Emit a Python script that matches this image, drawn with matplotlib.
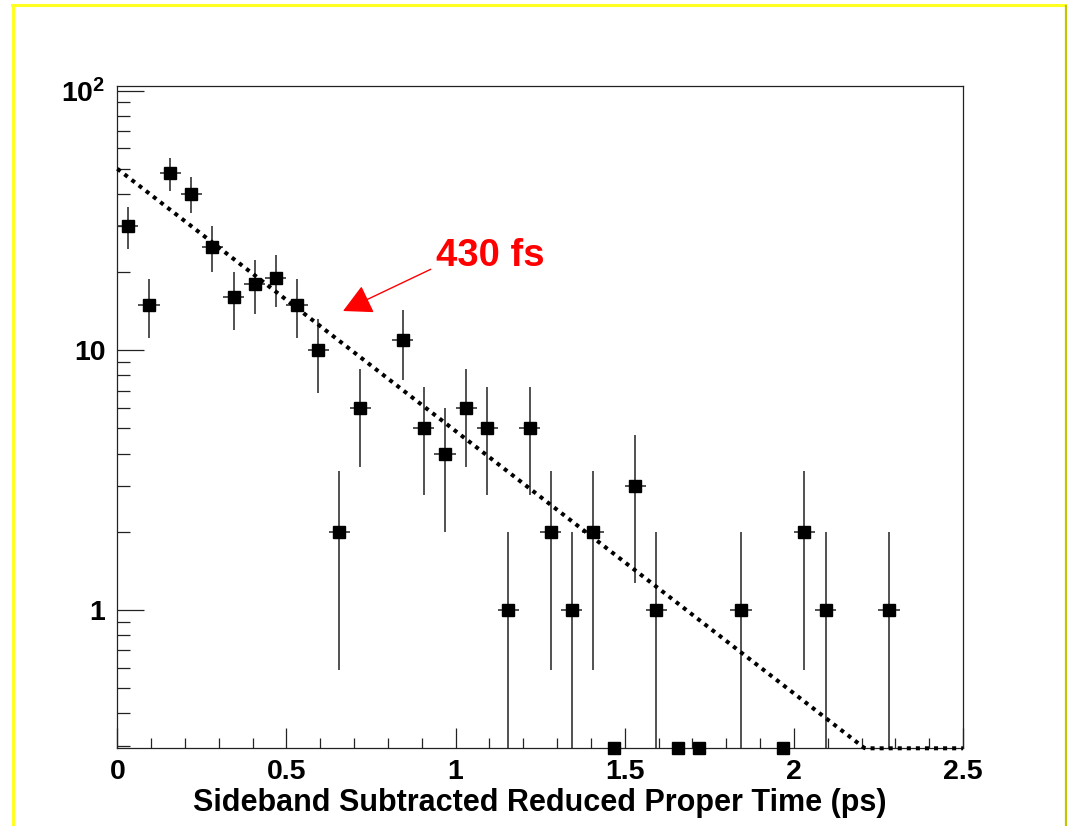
import numpy as np
import matplotlib
matplotlib.use("Agg")
import matplotlib.pyplot as plt
from matplotlib.ticker import FixedLocator, FuncFormatter
from matplotlib.lines import Line2D

plt.rcParams["font.family"] = ["Liberation Sans", "DejaVu Sans"]
plt.rcParams["font.weight"] = "bold"
plt.rcParams["mathtext.fontset"] = "custom"
plt.rcParams["mathtext.rm"] = "Liberation Sans:bold"
plt.rcParams["mathtext.bf"] = "Liberation Sans:bold"
plt.rcParams["mathtext.default"] = "rm"

# ---- data -------------------------------------------------------------
# 40 bins of 62.5 fs between 0 and 2.5 ps; sideband-subtracted counts.
# 0 = empty bin (not drawn), negative = below the plotted floor.
bin_edges = np.linspace(0.0, 2.5, 41)
counts = [30, 15, 48, 40, 25, 16, 18, 19, 15, 10,
          2, 6, 0, 11, 5, 4, 6, 5, 1, 5,
          2, 1, 2, -1, 3, 1, -1, -1, 0, 1,
          0, -1, 2, 1, 0, 0, 1, 0, 0, 0]

# exponential fit: N(t) = A * exp(-t / tau)
fit_amplitude = 50.0
fit_tau_ps = 0.430

x_range = (0.0, 2.5)
y_range = (0.2934, 104.4)
x_title = "Sideband Subtracted Reduced Proper Time (ps)"
y_tick_values = [1, 10, 100]
y_tick_texts = ["1", "10", "$10^{2}$"]
x_tick_values = [0, 0.5, 1, 1.5, 2, 2.5]
x_tick_texts = ["0", "0.5", "1", "1.5", "2", "2.5"]

# ---- figure -----------------------------------------------------------
W, H = 1067, 826
fig = plt.figure(figsize=(W / 100, H / 100), dpi=100)
fig.patch.set_facecolor("white")

ax_l, ax_r, ax_b, ax_t = 117.3, 963.0, 748.3, 85.7
ax = fig.add_axes([ax_l / W, 1 - ax_b / H, (ax_r - ax_l) / W, (ax_b - ax_t) / H])
ax.set_yscale("log")
ax.set_xlim(*x_range)
ax.set_ylim(*y_range)

counts = np.asarray(counts, dtype=float)
centers = 0.5 * (bin_edges[:-1] + bin_edges[1:])
half_w = 0.5 * np.diff(bin_edges)
ylo_axis = y_range[0]

err_col = "#333333"
pos = counts > 0
yc = counts[pos]
xc = centers[pos]
err = np.sqrt(yc)
lo = np.maximum(yc - err, ylo_axis)
hi = yc + err
ax.vlines(xc, lo, hi, color=err_col, lw=1.2, zorder=3)
ax.hlines(yc, xc - half_w[pos], xc + half_w[pos], color=err_col, lw=1.2, zorder=3)
ax.plot(xc, yc, ls="none", marker="s", ms=9.0, color="black", zorder=4)

neg = counts < 0
ax.plot(centers[neg], np.full(neg.sum(), ylo_axis), ls="none", marker="s",
        ms=9.0, color="black", zorder=4, clip_on=False)

# fit curve, held at the floor once it drops below the plotted range
t = np.linspace(x_range[0], x_range[1], 600)
fit = fit_amplitude * np.exp(-t / fit_tau_ps)
fit_line, = ax.plot(t, np.maximum(fit, ylo_axis), color="black", lw=2.9,
                    zorder=5, clip_on=False)
fit_line.set_dashes((1.0, 1.25))
fit_line.set_dash_capstyle("butt")

# ---- axes styling -----------------------------------------------------
for s in ax.spines.values():
    s.set_linewidth(0.9)
    s.set_color("#222222")

ax.xaxis.set_major_locator(FixedLocator(x_tick_values))
ax.xaxis.set_minor_locator(FixedLocator(np.arange(0.1, 2.5, 0.1)))
ax.set_xticklabels(x_tick_texts)

ax.yaxis.set_major_locator(FixedLocator(y_tick_values))
minor_y = [m * 10.0 ** e for e in (-1, 0, 1) for m in range(2, 10)]
minor_y = [v for v in minor_y if y_range[0] <= v <= y_range[1]]
ax.yaxis.set_minor_locator(FixedLocator(minor_y))
ax.yaxis.set_major_formatter(FuncFormatter(
    lambda v, p: y_tick_texts[y_tick_values.index(round(v))] if round(v) in y_tick_values else ""))
ax.yaxis.set_minor_formatter(FuncFormatter(lambda v, p: ""))

ax.tick_params(axis="both", which="both", direction="in", top=False, right=False,
               color="#222222", width=0.9, labelsize=20.5)
ax.tick_params(axis="x", which="major", length=14.4, pad=7.5)
ax.tick_params(axis="x", which="minor", length=7.2)
ax.tick_params(axis="y", which="major", length=19.4, pad=8.5)
ax.tick_params(axis="y", which="minor", length=9.7)
for lab in ax.get_xticklabels() + ax.get_yticklabels():
    lab.set_fontweight("bold")

ax.set_xlabel(x_title, fontsize=22, fontweight="bold", labelpad=2.5)

# ---- lifetime annotation ---------------------------------------------
fig.text(436 / W, 1 - 265.7 / H, f"{fit_tau_ps * 1000:.0f} fs", color="red",
         fontsize=27.5, fontweight="bold", ha="left", va="baseline")
fig.patches.append(matplotlib.patches.FancyArrowPatch(
    posA=(430.7 / W, 1 - 269.3 / H), posB=(343 / W, 1 - 311 / H),
    transform=fig.transFigure, arrowstyle="-|>,head_length=18,head_width=9.4",
    mutation_scale=1, color="red", lw=1.0, shrinkA=0, shrinkB=0))

# ---- canvas border ----------------------------------------------------
fig.add_artist(Line2D([13 / W, 13 / W], [0, 1 - 4.5 / H], transform=fig.transFigure,
                      color="#ffff22", lw=2.2))
fig.add_artist(Line2D([12 / W, 1.0], [1 - 5 / H, 1 - 5 / H], transform=fig.transFigure,
                      color="#ffff22", lw=2.2))
fig.add_artist(Line2D([1066 / W, 1066 / W], [0, 1 - 6 / H], transform=fig.transFigure,
                      color="#c4c400", lw=1.6))

fig.savefig("out.png", dpi=100, facecolor="white")
